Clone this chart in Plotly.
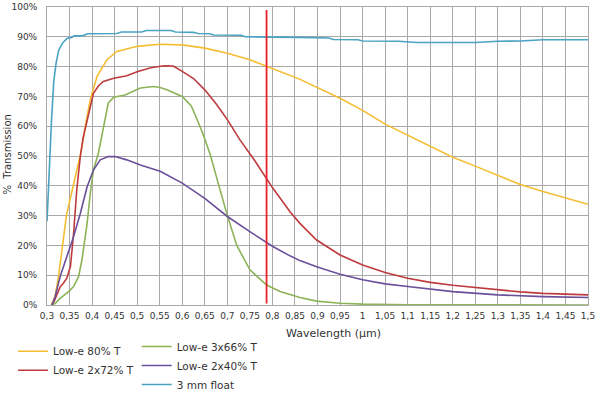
import plotly.graph_objects as go

# ---------------- data (wavelength in µm, transmission in %) ----------------
x_tickvals = [0.3, 0.35, 0.4, 0.45, 0.5, 0.55, 0.6, 0.65, 0.7, 0.75, 0.8, 0.85, 0.9,
              0.95, 1.0, 1.05, 1.1, 1.15, 1.2, 1.25, 1.3, 1.35, 1.4, 1.45, 1.5]
x_ticktext = ["0,3", "0,35", "0,4", "0,45", "0,5", "0,55", "0,6", "0,65", "0,7", "0,75",
              "0,8", "0,85", "0,9", "0,95", "1", "1,05", "1,1", "1,15", "1,2", "1,25",
              "1,3", "1,35", "1,4", "1,45", "1,5"]
y_tickvals = [0, 10, 20, 30, 40, 50, 60, 70, 80, 90, 100]
y_ticktext = ["0%", "10%", "20%", "30%", "40%", "50%", "60%", "70%", "80%", "90%", "100%"]

lowe80_x = [0.31, 0.318, 0.326, 0.335, 0.343, 0.352, 0.36, 0.368, 0.375, 0.385, 0.396,
            0.411, 0.433, 0.455, 0.50, 0.55, 0.60, 0.65, 0.70, 0.75, 0.80, 0.86, 0.95,
            1.0, 1.05, 1.15, 1.20, 1.25, 1.30, 1.35, 1.40, 1.45, 1.50]
lowe80_y = [0, 3, 10, 20, 30, 36, 41, 46, 51, 60, 69, 76.7, 82.3, 85.1, 86.8, 87.5, 87.3,
            86.2, 84.5, 82.3, 79.4, 75.8, 69.4, 65.3, 60.7, 53.2, 49.6, 46.6, 43.4, 40.4,
            38.1, 35.9, 33.8]

lowe2x72_x = [0.31, 0.315, 0.322, 0.329, 0.337, 0.344, 0.352, 0.359, 0.366, 0.374, 0.38,
              0.389, 0.396, 0.403, 0.414, 0.425, 0.448, 0.477, 0.50, 0.53, 0.56, 0.58,
              0.60, 0.625, 0.65, 0.675, 0.70, 0.728, 0.761, 0.787, 0.80, 0.839,
              0.861, 0.898, 0.95, 1.0, 1.05, 1.10, 1.15, 1.20, 1.25, 1.30, 1.35, 1.40,
              1.45, 1.50]
lowe2x72_y = [0, 1, 3.5, 6, 7.5, 9, 12.9, 24, 38.6, 50, 56, 62, 67, 71, 73.5, 75, 76.1,
              76.9, 78.3, 79.6, 80.3, 80.2, 78.4, 76, 72.2, 67.5, 62.2, 55.4, 48.4,
              42.6, 39.4, 31.3, 27.4, 21.8, 16.8, 13.4, 10.9, 9.0, 7.6, 6.6, 5.8, 5.0,
              4.4, 3.9, 3.6, 3.4]

lowe3x66_x = [0.31, 0.318, 0.329, 0.348, 0.359, 0.37, 0.3775, 0.389, 0.396, 0.403, 0.414,
              0.425, 0.436, 0.448, 0.473, 0.507, 0.536, 0.551, 0.566, 0.60, 0.62, 0.635,
              0.647, 0.662, 0.68, 0.70, 0.721, 0.75, 0.787, 0.817, 0.861, 0.898, 0.95,
              1.0, 1.1, 1.2, 1.5]
lowe3x66_y = [0, 0.5, 2.2, 4.5, 6.2, 9.5, 15.1, 27.4, 37.5, 45.3, 51, 60, 67.8, 69.7,
              70.5, 72.8, 73.3, 73.0, 72.2, 70.0, 66.8, 61.5, 57, 50.5, 41, 30, 20,
              11.8, 6.7, 4.5, 2.5, 1.3, 0.6, 0.3, 0.1, 0.05, 0.0]

lowe2x40_x = [0.311, 0.318, 0.329, 0.344, 0.359, 0.374, 0.389, 0.403, 0.418, 0.436, 0.451,
              0.477, 0.507, 0.551, 0.60, 0.65, 0.70, 0.75, 0.787, 0.80, 0.839, 0.861,
              0.898, 0.95, 1.0, 1.05, 1.10, 1.15, 1.20, 1.30, 1.40, 1.50]
lowe2x40_y = [0, 2.8, 9.5, 16.2, 23, 30.8, 39.7, 45.3, 48.7, 49.8, 49.8, 48.7, 47.0, 44.9,
              40.9, 35.8, 29.7, 24.6, 20.8, 19.7, 16.5, 14.9, 12.8, 10.3, 8.5, 7.1, 6.2,
              5.3, 4.5, 3.4, 2.8, 2.5]

float3mm_x = [0.30, 0.303, 0.307, 0.31, 0.315, 0.32, 0.326, 0.335, 0.345, 0.355, 0.36,
              0.38, 0.39, 0.455, 0.465, 0.51, 0.52, 0.575, 0.585, 0.625, 0.635, 0.66,
              0.67, 0.73, 0.74, 0.80, 0.86, 0.925, 0.935, 0.99, 1.0, 1.08, 1.12, 1.25,
              1.30, 1.35, 1.40, 1.50]
float3mm_y = [28, 40, 53, 62, 75, 81, 85.5, 88, 89.5, 89.8, 90.3, 90.4, 91.0, 91.1, 91.6,
              91.6, 92.1, 92.1, 91.6, 91.5, 91.1, 91.0, 90.6, 90.5, 90.0, 90.0, 89.8,
              89.6, 89.1, 89.0, 88.6, 88.5, 88.1, 88.1, 88.5, 88.6, 89.0, 89.0]

marker_x = [0.787, 0.787]
marker_y = [0.5, 99]

# ---------------- figure ----------------
FONT = "DejaVu Sans"
series = [
    ("Low-e 80% T", lowe80_x, lowe80_y, "#F5BD33", "legend"),
    ("Low-e 2x72% T", lowe2x72_x, lowe2x72_y, "#BE3A3D", "legend"),
    ("Low-e 3x66% T", lowe3x66_x, lowe3x66_y, "#8DB357", "legend2"),
    ("Low-e 2x40% T", lowe2x40_x, lowe2x40_y, "#6A4F9B", "legend2"),
    ("3 mm float", float3mm_x, float3mm_y, "#4AA3C2", "legend2"),
]

fig = go.Figure()
for name, xs, ys, col, lg in series:
    fig.add_trace(go.Scatter(x=xs, y=ys, name=name, mode="lines",
                             line=dict(color=col, width=1.6),
                             legend=lg))

fig.add_trace(go.Scatter(x=marker_x, y=marker_y, mode="lines", showlegend=False,
                         line=dict(color="#E8222A", width=1.8), hoverinfo="skip"))

grid = "#a9a9a9"
fig.update_layout(
    width=600, height=398,
    margin=dict(l=47, r=12, t=7, b=93, autoexpand=False),
    paper_bgcolor="white", plot_bgcolor="white",
    font=dict(family=FONT, size=10, color="#333333"),
    xaxis=dict(range=[0.3, 1.5], tickmode="array", tickvals=x_tickvals, ticktext=x_ticktext,
               showgrid=True, gridcolor=grid, gridwidth=1, zeroline=False, automargin=False,
               showline=True, linecolor=grid, linewidth=1, mirror=True,
               ticks="outside", ticklen=2, tickcolor="white", ticklabeloverflow="allow",
               tickfont=dict(family=FONT, size=9, color="#333333")),
    yaxis=dict(range=[0, 100], tickmode="array", tickvals=y_tickvals, ticktext=y_ticktext,
               showgrid=True, gridcolor=grid, gridwidth=1, zeroline=False, automargin=False,
               showline=True, linecolor=grid, linewidth=1, mirror=True,
               ticks="outside", ticklen=7, tickcolor="white", ticklabeloverflow="allow",
               tickfont=dict(family=FONT, size=9, color="#333333")),
    legend=dict(xref="container", yref="container", x=0.0217, y=0.1538,
                xanchor="left", yanchor="top",
                bgcolor="rgba(0,0,0,0)", font=dict(family=FONT, size=10.5, color="#333333"),
                itemwidth=30, traceorder="normal"),
    legend2=dict(xref="container", yref="container", x=0.2278, y=0.1658,
                 xanchor="left", yanchor="top",
                 bgcolor="rgba(0,0,0,0)", font=dict(family=FONT, size=10.5, color="#333333"),
                 itemwidth=30, traceorder="normal"),
    annotations=[
        dict(text="Wavelength (µm)", xref="paper", yref="paper", x=0.5296, y=-0.094,
             xanchor="center", yanchor="middle", showarrow=False,
             font=dict(family=FONT, size=11, color="#333333")),
        dict(text="%\u00a0 Transmission", xref="paper", yref="paper", x=-0.073, y=0.503,
             xanchor="center", yanchor="middle", showarrow=False, textangle=-90,
             font=dict(family=FONT, size=10, color="#333333")),
    ],
)

# remove the default 8px page margin so the 600x398 figure fills the window exactly
fig.write_html("out.html", config={"displayModeBar": False},
               post_script="document.body.style.margin='0px';")
